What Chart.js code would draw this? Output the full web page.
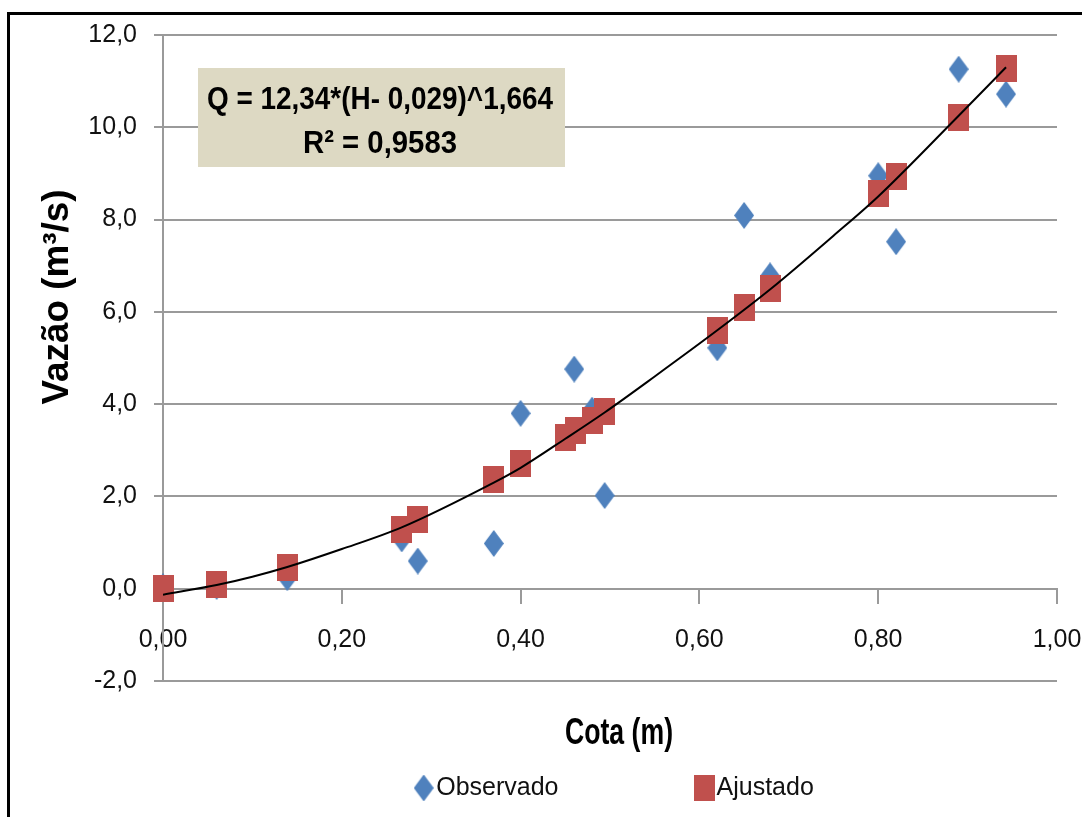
<!DOCTYPE html>
<html>
<head>
<meta charset="utf-8">
<title>Curva-chave</title>
<script src="https://cdn.jsdelivr.net/npm/chart.js@4.4.0/dist/chart.umd.min.js"></script>
<style>
    body { margin: 0; background: #fff; }
    canvas { display: block; }
</style>
</head>
<body>
<canvas id="curva" width="1082" height="817"></canvas>
<script>
// valores
const cotaObs = [0.000, 0.060, 0.139, 0.267, 0.285, 0.370, 0.400, 0.460, 0.480, 0.494, 0.620, 0.650, 0.679, 0.800, 0.820, 0.890, 0.943];
const vazaoObs = [0.04, 0.05, 0.24, 1.08, 0.60, 0.98, 3.80, 4.76, 3.87, 2.02, 5.22, 8.09, 6.78, 8.95, 7.52, 11.26, 10.72];

const cotaAjust = [0.000, 0.060, 0.139, 0.267, 0.285, 0.370, 0.400, 0.450, 0.461, 0.480, 0.494, 0.620, 0.650, 0.680, 0.800, 0.821, 0.890, 0.943];
const vazaoAjust = [0.00, 0.09, 0.46, 1.28, 1.50, 2.37, 2.72, 3.28, 3.43, 3.65, 3.85, 5.60, 6.10, 6.50, 8.56, 8.93, 10.22, 11.28];

// linha de tendencia (pontos lidos sobre a curva preta)
const cotaTend = [0.000, 0.060, 0.100, 0.139, 0.200, 0.267, 0.370, 0.400, 0.450, 0.494, 0.550, 0.620, 0.680, 0.750, 0.800, 0.890, 0.943];
const vazaoTend = [-0.13, 0.08, 0.26, 0.47, 0.86, 1.33, 2.30, 2.62, 3.25, 3.82, 4.60, 5.60, 6.50, 7.65, 8.50, 10.25, 11.30];

const yTicks = { min: -2, max: 12, step: 2 };
const xTicks = { min: 0, max: 1, step: 0.2 };

const legendLabels = ['Observado', 'Ajustado'];
const equationText = ['Q = 12,34*(H- 0,029)^1,664', 'R² = 0,9583'];
const xTitle = 'Cota (m)';
const yTitle = 'Vazão (m³/s)';

const SANS = "'Liberation Sans', Arial, sans-serif";
const GRID = '#9a9a9a';
const BLUE = '#4f81bd';
const RED = '#c0504d';

function toPoints(xs, ys) {
    return xs.map((x, i) => ({ x: x, y: ys[i] }));
}

// marcadores no formato do Excel (um pouco mais altos que largos)
function diamondImg(w, h, color) {
    const c = document.createElement('canvas');
    c.width = w; c.height = h;
    const g = c.getContext('2d');
    g.fillStyle = color;
    g.beginPath();
    g.moveTo(w / 2, 0);
    g.lineTo(w, h / 2);
    g.lineTo(w / 2, h);
    g.lineTo(0, h / 2);
    g.closePath();
    g.fill();
    return c;
}

function squareImg(w, h, color) {
    const c = document.createElement('canvas');
    c.width = w; c.height = h;
    const g = c.getContext('2d');
    g.fillStyle = color;
    g.fillRect(0, 0, w, h);
    return c;
}

function comma(v, digits) {
    return v.toFixed(digits).replace('.', ',');
}

// escreve texto ajustado a uma largura
function fitText(ctx, text, font, cx, cy, width, angle) {
    ctx.save();
    ctx.font = font;
    ctx.textAlign = 'center';
    ctx.textBaseline = 'middle';
    ctx.fillStyle = '#000';
    const w = ctx.measureText(text).width;
    ctx.translate(cx, cy);
    if (angle) ctx.rotate(angle);
    ctx.scale(width / w, 1);
    ctx.fillText(text, 0, 0);
    ctx.restore();
}

const extras = {
    id: 'extras',
    beforeDraw(chart) {
        const ctx = chart.ctx;
        ctx.save();
        ctx.fillStyle = '#fff';
        ctx.fillRect(0, 0, chart.width, chart.height);
        ctx.restore();
    },
    afterDraw(chart) {
        const ctx = chart.ctx;
        // moldura
        ctx.save();
        ctx.strokeStyle = '#000';
        ctx.lineWidth = 3;
        ctx.strokeRect(8.5, 13.5, 1200, 1000);
        ctx.restore();

        // caixa da equacao
        ctx.save();
        ctx.fillStyle = '#ddd9c3';
        ctx.fillRect(198, 68, 367, 99);
        ctx.restore();
        fitText(ctx, equationText[0], 'bold 32px ' + SANS, 380, 100, 346);
        fitText(ctx, equationText[1], 'bold 32px ' + SANS, 380, 144, 154);

        // titulos dos eixos
        fitText(ctx, xTitle, 'bold 37px ' + SANS, 619, 734, 108);
        fitText(ctx, yTitle, 'bold 36px ' + SANS, 58, 297, 215, -Math.PI / 2);
    }
};

const ctx = document.getElementById('curva');
const myChart = new Chart(ctx, {
    type: 'scatter',
    data: {
        datasets: [{
            label: 'Tendência',
            data: toPoints(cotaTend, vazaoTend),
            showLine: true,
            borderColor: '#000',
            borderWidth: 2,
            pointRadius: 0,
            cubicInterpolationMode: 'monotone',
            order: 0
        }, {
            label: legendLabels[0],
            data: toPoints(cotaObs, vazaoObs),
            pointStyle: diamondImg(20, 27, BLUE),
            backgroundColor: BLUE,
            borderColor: BLUE,
            clip: false,
            order: 2
        }, {
            label: legendLabels[1],
            data: toPoints(cotaAjust, vazaoAjust),
            pointStyle: squareImg(21, 27, RED),
            backgroundColor: RED,
            borderColor: RED,
            clip: false,
            order: 1
        }]
    },
    options: {
        responsive: false,
        animation: false,
        events: [],
        // a direita negativa so serve para centrar a legenda como no original
        layout: { padding: { left: 83, right: -72.5, top: 35, bottom: 16 } },
        scales: {
            x: {
                type: 'linear',
                position: { y: 0 },
                min: xTicks.min,
                max: xTicks.max,
                ticks: {
                    stepSize: xTicks.step,
                    callback: v => comma(v, 2),
                    font: { family: SANS, size: 25 },
                    color: '#111',
                    padding: 22,
                    maxRotation: 0
                },
                grid: { drawOnChartArea: false, drawTicks: true, tickLength: 14, color: GRID, lineWidth: 2 },
                border: { display: true, color: GRID, width: 2 },
                afterFit: s => { s.paddingLeft = 0; s.paddingRight = 25; }
            },
            y: {
                type: 'linear',
                min: yTicks.min,
                max: yTicks.max,
                ticks: {
                    stepSize: yTicks.step,
                    callback: v => comma(v, 1),
                    font: { family: SANS, size: 25 },
                    color: '#111',
                    padding: 17
                },
                grid: { color: GRID, lineWidth: 2, tickLength: 9 },
                border: { display: true, color: GRID, width: 2 },
                afterFit: s => { s.width = 80; }
            }
        },
        plugins: {
            legend: {
                position: 'bottom',
                fullSize: true,
                maxHeight: 120,
                title: { display: true, text: ' ', font: { size: 10 }, padding: { top: -63, bottom: 0 } },
                labels: {
                    usePointStyle: true,
                    pointStyleWidth: 0.01,
                    padding: 145.5,
                    color: '#111',
                    font: { family: SANS, size: 25 },
                    filter: item => item.datasetIndex !== 0,
                    sort: (a, b) => a.datasetIndex - b.datasetIndex
                }
            },
            tooltip: { enabled: false }
        }
    },
    plugins: [extras]
});
</script>
</body>
</html>
